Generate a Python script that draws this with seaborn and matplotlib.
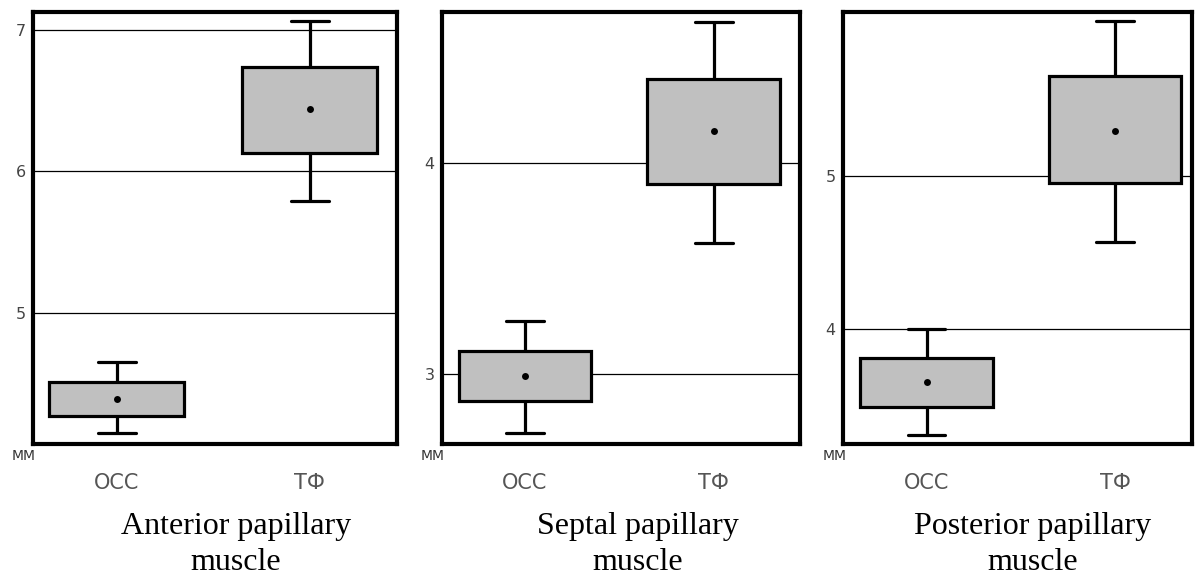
import numpy as np
import pandas as pd
import seaborn as sns
import matplotlib.pyplot as plt

# ======================
# --- Data ---
# ======================
groups = ['ОСС', 'ТФ']

# anterior papillary muscle
ant_low = [4.15, 5.79]
ant_q1 = [4.27, 6.13]
ant_mid = [4.39, 6.44]
ant_q3 = [4.51, 6.74]
ant_high = [4.65, 7.06]

# septal papillary muscle
sep_low = [2.72, 3.62]
sep_q1 = [2.87, 3.90]
sep_mid = [2.99, 4.15]
sep_q3 = [3.11, 4.40]
sep_high = [3.25, 4.67]

# posterior papillary muscle
post_low = [3.31, 4.57]
post_q1 = [3.49, 4.95]
post_mid = [3.65, 5.29]
post_q3 = [3.81, 5.65]
post_high = [4.00, 6.01]

titles = ['Anterior papillary\nmuscle', 'Septal papillary\nmuscle', 'Posterior papillary\nmuscle']
yticks = [[5, 6, 7], [3, 4], [4, 5]]
ylims = [(4.074, 7.127), (2.668, 4.716), (3.248, 6.07)]
xlims = [(-0.435, 1.451), (-0.439, 1.455), (-0.444, 1.407)]


def make_df(low, q1, mid, q3, high):
    rows = []
    for i, g in enumerate(groups):
        for v in (low[i], q1[i], mid[i], q3[i], high[i]):
            rows.append({'group': g, 'value': v})
    return pd.DataFrame(rows)


panels = [
    (make_df(ant_low, ant_q1, ant_mid, ant_q3, ant_high), ant_mid),
    (make_df(sep_low, sep_q1, sep_mid, sep_q3, sep_high), sep_mid),
    (make_df(post_low, post_q1, post_mid, post_q3, post_high), post_mid),
]

# ======================
# --- Plot ---
# ======================
sns.set_style('white')
plt.rcParams['font.family'] = ['DejaVu Sans']

fig = plt.figure(figsize=(11.97, 5.77), dpi=100)
axes_pos = [
    [0.0276, 0.2305, 0.304, 0.749],
    [0.369, 0.2305, 0.299, 0.749],
    [0.704, 0.2305, 0.292, 0.749],
]
title_x = [236 / 1197, 638 / 1197, 1033 / 1197]

for k, (df, mids) in enumerate(panels):
    ax = fig.add_axes(axes_pos[k])
    for y in yticks[k]:
        ax.axhline(y, color='black', linewidth=0.9, zorder=0)
    sns.boxplot(data=df, x='group', y='value', order=groups, whis=(0, 100),
                width=0.7, color='#c0c0c0', linecolor='black', linewidth=2.3,
                capwidths=0.2, medianprops={'visible': False},
                showfliers=False, ax=ax, zorder=2)
    sns.stripplot(x=groups, y=mids, order=groups, jitter=False, color='black',
                  size=5, ax=ax, zorder=3)
    ax.set_xlim(*xlims[k])
    ax.set_ylim(*ylims[k])
    ax.set_yticks(yticks[k])
    ax.set_yticklabels([str(t) for t in yticks[k]], color='#444444', fontsize=11.5)
    ax.set_xticks([0, 1])
    ax.set_xticklabels(groups, color='#555555', fontsize=15)
    ax.tick_params(axis='y', length=0, pad=5)
    ax.tick_params(axis='x', length=0, pad=21)
    ax.set_xlabel('')
    ax.set_ylabel('')
    for s in ax.spines.values():
        s.set_visible(True)
        s.set_color('black')
        s.set_linewidth(3)
    ax.text(-0.058, -0.028, 'MM', transform=ax.transAxes, fontsize=10,
            color='#333333', ha='left', va='center')
    fig.text(title_x[k], 1 - 512 / 577, titles[k], ha='center', va='top',
             fontsize=23, family='Liberation Serif', color='black',
             linespacing=1.3)

fig.savefig('out.png', dpi=100, facecolor='white')
